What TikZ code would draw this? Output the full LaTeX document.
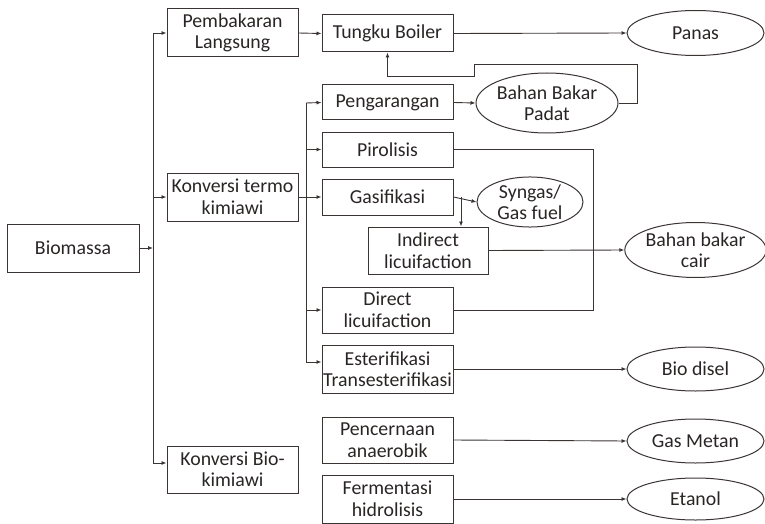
\documentclass[tikz,border=0pt]{standalone}
\usepackage{fontspec}
\setmainfont{Carlito}
\usetikzlibrary{arrows.meta,shapes.geometric}
\definecolor{lc}{HTML}{3A3433}
\definecolor{tc}{HTML}{2A2525}
\newcommand{\fs}{\fontsize{19.8}{21.5}\selectfont}
\begin{document}
\begin{tikzpicture}[x=1pt,y=-1pt,
  box/.style={draw=lc, line width=1pt, rectangle, inner sep=0pt, align=center, font=\fs, text=tc},
  oval/.style={draw=lc, line width=1pt, ellipse, inner sep=0pt, align=center, font=\fs, text=tc},
  con/.style={draw=lc, line width=0.9pt},
  arr/.style={con, -{Latex[length=5pt,width=4pt]}}
]
\useasboundingbox (0,0) rectangle (765,524);
% left boxes
\node[box, minimum width=132pt, minimum height=48pt] (bio) at (73,248) {Biomassa};
\node[box, minimum width=131pt, minimum height=48pt] (pl) at (232.5,33) {Pembakaran\\Langsung};
\node[box, minimum width=131pt, minimum height=48pt] (kt) at (232.5,197) {Konversi termo\\kimiawi};
\node[box, minimum width=131pt, minimum height=47pt] (kb) at (232.5,469.5) {Konversi Bio-\\kimiawi};
% middle boxes
\node[box, minimum width=131pt, minimum height=37pt] (tb) at (387.5,33.5) {Tungku Boiler};
\node[box, minimum width=131pt, minimum height=35pt] (pg) at (387.5,102.5) {Pengarangan};
\node[box, minimum width=131pt, minimum height=35pt] (pr) at (387.5,149.5) {Pirolisis};
\node[box, minimum width=131pt, minimum height=36pt] (gs) at (387.5,197) {Gasifikasi};
\node[box, minimum width=120pt, minimum height=47pt] (ind) at (428,250.5) {Indirect\\licuifaction};
\node[box, minimum width=131pt, minimum height=46pt] (dl) at (387.5,310) {Direct\\licuifaction};
\node[box, minimum width=131pt, minimum height=48pt] (es) at (387.5,369) {Esterifikasi\\Transesterifikasi};
\node[box, minimum width=131pt, minimum height=46pt] (pc) at (387.5,440) {Pencernaan\\anaerobik};
\node[box, minimum width=131pt, minimum height=48pt] (fm) at (387.5,499) {Fermentasi\\hidrolisis};
% ellipses
\node[oval, minimum width=142pt, minimum height=60pt] (bbp) at (547,103) {Bahan Bakar\\Padat};
\node[oval, minimum width=106pt, minimum height=42pt] (sg) at (530,202) {Syngas/\\Gas fuel};
\node[oval, minimum width=137pt, minimum height=45pt] (pn) at (695.5,33) {Panas};
\node[oval, minimum width=137pt, minimum height=55pt] (bbc) at (695.5,250) {Bahan bakar\\cair};
\node[oval, minimum width=137pt, minimum height=44pt] (bd) at (695.5,369) {Bio disel};
\node[oval, minimum width=137pt, minimum height=44pt] (gm) at (695.5,441) {Gas Metan};
\node[oval, minimum width=137pt, minimum height=42pt] (et) at (695.5,499) {Etanol};
% junction coordinates
\coordinate (t1a) at (153,33);
\coordinate (t1b) at (153,463);
\coordinate (t2a) at (306,103);
\coordinate (t2b) at (306,362);
\coordinate (fb1) at (637,64);
\coordinate (fb2) at (474,64);
\coordinate (fb3) at (474,76);
\coordinate (pd) at (593,150);
\coordinate (gj) at (461,197);
% first trunk
\draw[con] (t1a) -- (t1b);
\draw[arr] (bio.east) -- (bio.east -| t1a);
\draw[arr] (t1a) -- (pl.west);
\draw[arr] (kt.west -| t1a) -- (kt.west);
\draw[arr] (t1b) -- (t1b -| kb.west);
% second trunk
\draw[con] (t2a) -- (t2b);
\draw[arr] (kt.east) -- (gs.west);
\draw[arr] (t2a) -- (pg.west);
\draw[arr] (pr.west -| t2a) -- (pr.west);
\draw[arr] (dl.west -| t2a) -- (dl.west);
\draw[arr] (t2b) -- (t2b -| es.west);
% Pembakaran route
\draw[arr] (pl.east) -- (tb.west);
\draw[arr] (tb.east) -- (pn.west);
% Pengarangan
\draw[arr] (pg.east) -- (bbp.west);
\draw[arr] (bbp.east) -| (fb1) -- (fb2) -- (fb3) -| (tb.south);
% Pirolisis / Direct loop
\draw[con] (pr.east) -- (pr.east -| pd) -- (dl.east -| pd) -- (dl.east);
% Gasifikasi
\draw[arr] (gs.east) -- (sg.west);
\draw[arr] (gj) -- (ind.north -| gj);
\draw[arr] (ind.east) -- (bbc.west);
% other outputs
\draw[arr] (es.east) -- (bd.west);
\draw[arr] (pc.east) -- (gm.west);
\draw[arr] (fm.east) -- (et.west);
\end{tikzpicture}
\end{document}
